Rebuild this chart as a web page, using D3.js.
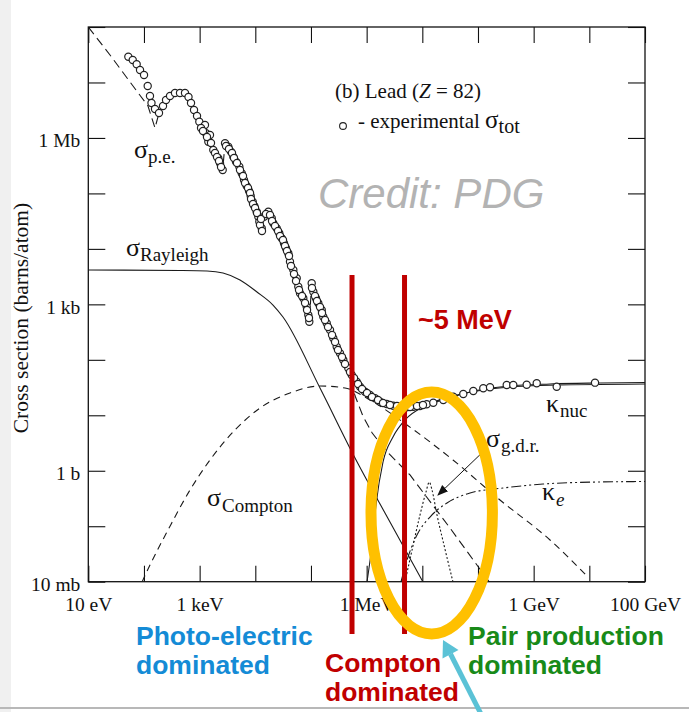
<!DOCTYPE html>
<html>
<head>
<meta charset="utf-8">
<script src="https://cdn.jsdelivr.net/npm/d3@7"></script>
<style>
  body { margin: 0; background: #fff; }
  svg { display: block; }
</style>
</head>
<body>
<div id="chart"></div>
<script>

// all values are read off the picture, in log10 decades
// energy in eV, cross section in barns/atom

// experimental total cross section (open circles)
var expLogE = [1.719, 1.798, 1.869, 1.929, 2.001, 2.067, 2.108, 2.135, 2.198, 2.270,
  2.342, 2.396, 2.468, 2.557, 2.647, 2.737, 2.800, 2.845, 2.899, 2.953,
  2.994, 3.096, 3.114, 3.186, 3.156, 3.245, 3.335, 3.366, 3.414, 3.456,
  3.515, 3.563, 3.605, 3.653, 3.713, 3.756, 3.797, 3.845, 3.887, 3.917,
  3.953, 3.982, 4.025, 4.054, 4.072, 4.115, 4.156, 4.234, 4.295, 4.323,
  4.384, 4.431, 4.474, 4.515, 4.551, 4.593, 4.623, 4.683, 4.744, 4.772,
  4.803, 4.862, 4.923, 4.952, 4.970, 5.013, 5.042, 5.090, 5.132, 5.193,
  5.221, 5.283, 5.342, 5.401, 5.462, 5.521, 5.581, 5.671, 5.732, 5.821,
  5.881, 5.970, 6.060, 6.150, 6.240, 6.360, 6.479, 6.599, 6.719, 6.838,
  6.958, 7.079, 7.197, 7.377, 7.557, 7.736, 7.916, 8.095, 8.216, 8.516,
  8.634, 8.875, 9.055, 9.414, 10.102,
  // second, denser pass over the crowded part of the data
  3.025, 3.060, 3.132, 3.204, 3.276, 3.312, 3.348, 3.384, 3.474, 3.527,
  3.581, 3.617, 3.671, 3.725, 3.779, 3.815, 3.869, 3.905, 3.923, 3.959,
  3.995, 4.030, 4.084, 4.120, 4.102, 4.192, 4.264, 4.300, 4.354, 4.408,
  4.444, 4.497, 4.533, 4.569, 4.605, 4.641, 4.695, 4.731, 4.785, 4.839,
  4.893, 4.929, 4.964, 5.018, 5.072, 5.108, 5.162, 5.198, 5.252, 5.306,
  5.378, 5.432, 5.485, 5.557, 5.611, 5.701, 5.773, 5.845, 5.917, 6.006,
  6.096, 6.204, 6.294, 6.419, 6.545, 6.653, 6.779, 6.905, 7.012];
var expLogSigma = [7.465, 7.405, 7.328, 7.225, 7.135, 6.937, 6.756, 6.630, 6.522, 6.450,
  6.576, 6.684, 6.756, 6.810, 6.810, 6.810, 6.738, 6.630, 6.504, 6.396,
  6.293, 6.233, 6.084, 6.053, 5.932, 5.783, 5.633, 5.543, 5.422, 5.903,
  5.842, 5.752, 5.662, 5.572, 5.482, 5.362, 5.242, 5.134, 5.044, 4.953,
  4.851, 4.773, 4.670, 4.580, 4.490, 4.371, 4.580, 4.670, 4.551, 4.461,
  4.371, 4.281, 4.191, 4.101, 4.011, 3.920, 3.769, 3.619, 3.470, 3.318,
  3.199, 3.109, 2.958, 2.808, 2.687, 3.380, 3.228, 3.109, 3.019, 2.898,
  2.777, 2.658, 2.538, 2.388, 2.237, 2.118, 1.997, 1.847, 1.726, 1.606,
  1.515, 1.425, 1.366, 1.306, 1.245, 1.204, 1.173, 1.155, 1.144, 1.155,
  1.168, 1.198, 1.227, 1.276, 1.335, 1.384, 1.438, 1.487, 1.505, 1.546,
  1.546, 1.551, 1.577, 1.515, 1.588,
  6.179, 6.125, 6.017, 5.909, 5.729, 5.657, 5.584, 5.476, 5.855, 5.801,
  5.729, 5.639, 5.548, 5.422, 5.314, 5.188, 5.098, 5.008, 4.899, 4.809,
  4.737, 4.647, 4.431, 4.322, 4.539, 4.629, 4.611, 4.503, 4.413, 4.322,
  4.232, 4.160, 4.052, 3.962, 3.872, 3.691, 3.547, 3.421, 3.259, 3.151,
  3.024, 2.898, 2.754, 3.295, 3.151, 3.060, 2.952, 2.844, 2.718, 2.592,
  2.448, 2.321, 2.177, 2.051, 1.925, 1.780, 1.672, 1.564, 1.474, 1.402,
  1.330, 1.276, 1.222, 1.186, 1.168, 1.150, 1.150, 1.168, 1.186];

// photo-electric (hidden under the data in the middle)
var peLogE = [1.000, 1.390, 1.749, 2.072, 2.198, 2.270, 2.342, 2.468, 2.647, 2.800,
  2.953, 3.096, 3.245, 3.366, 3.414, 3.456, 3.605, 3.797, 3.953, 4.072,
  4.115, 4.156, 4.234, 4.384, 4.551, 4.683, 4.803, 4.923, 4.970, 5.013,
  5.132, 5.283, 5.462, 5.581, 5.671, 5.800, 5.935, 6.100, 6.350, 6.779,
  7.497, 8.216];
var peLogSigma = [8.000, 7.495, 7.009, 6.576, 6.179, 6.450, 6.576, 6.756, 6.810, 6.738,
  6.396, 6.233, 5.783, 5.543, 5.422, 5.903, 5.662, 5.242, 4.851, 4.490,
  4.371, 4.580, 4.670, 4.371, 4.011, 3.619, 3.199, 2.958, 2.687, 3.380,
  3.019, 2.658, 2.237, 1.997, 1.720, 1.330, 0.980, 0.680, 0.360, -0.076,
  -1.032, -2.023];

// compton (incoherent)
var comptonLogE = [1.965, 2.108, 2.432, 2.827, 3.186, 3.635, 4.084, 4.623, 5.162, 5.611,
  6.060, 6.725, 7.551, 8.395, 9.294, 9.976];
var comptonLogSigma = [-2.005, -1.699, -1.068, -0.347, 0.194, 0.735, 1.131, 1.402, 1.528, 1.492,
  1.276, 0.825, 0.194, -0.527, -1.248, -1.915];

// rayleigh (coherent)
var rayleighLogE = [1.000, 2.647, 3.132, 3.420, 3.725, 4.030, 4.318, 4.497, 5.162, 5.791, 6.419, 7.012];
var rayleighLogSigma = [3.619, 3.610, 3.601, 3.565, 3.439, 3.223, 2.988, 2.772, 1.492, 0.230, -0.924, -2.005];

// total (theory) at high energy
var totalLogE = [5.881, 6.240, 6.599, 6.958, 7.372, 7.857, 8.395, 9.294, 10.192, 11.0];
var totalLogSigma = [1.510, 1.258, 1.150, 1.168, 1.276, 1.420, 1.510, 1.564, 1.582, 1.591];

// pair production, nuclear field
var nucLogE = [6.006, 6.096, 6.168, 6.294, 6.473, 6.689, 7.048, 7.551, 8.216, 9.114, 11.0];
var nucLogSigma = [-2.005, -1.338, -0.617, 0.158, 0.609, 0.915, 1.168, 1.348, 1.474, 1.537, 1.564];

// pair production, electron field
var elecLogE = [6.617, 6.743, 6.904, 7.138, 7.443, 7.857, 8.450, 9.168, 10.138, 11.0];
var elecLogSigma = [-2.005, -1.555, -1.158, -0.834, -0.581, -0.401, -0.311, -0.239, -0.203, -0.194];

// giant dipole resonance
var gdrLogE = [6.689, 6.815, 6.958, 7.066, 7.125, 7.174, 7.264, 7.389, 7.551];
var gdrLogSigma = [-2.005, -1.429, -0.798, -0.383, -0.203, -0.347, -0.798, -1.338, -2.005];

// tick labels
var xLabelDecades = [1, 3, 6, 9, 11];
var xLabelTexts = ['10 eV', '1 keV', '1 MeV', '1 GeV', '100 GeV'];
var yLabelDecades = [-2, 0, 3, 6];
var yLabelTexts = ['10 mb', '1 b', '1 kb', '1 Mb'];

// region boundaries drawn in red (eV)
var boundaryEnergies = [5.46e5, 4.79e6];


function renderChart(params) {

  // exposed variables
  var attrs = {
    svgWidth: 689,
    svgHeight: 712,
    plotLeft: 88.3,
    plotRight: 645,
    plotTop: 27,
    plotBottom: 581.7,
    container: 'body',
    serif: "'Liberation Serif', 'Times New Roman', serif",
    sans: "'Liberation Sans', Arial, sans-serif"
  };

  Object.keys(attrs).forEach(function (key) {
    if (params && params[key]) attrs[key] = params[key];
  });

  var main = function (selection) {
    selection.each(function () {

      var svg = d3.select(this).append('svg')
        .attr('width', attrs.svgWidth)
        .attr('height', attrs.svgHeight);

      // slide edge
      svg.append('rect').attr('x', 0).attr('y', 0).attr('width', 11).attr('height', attrs.svgHeight).attr('fill', '#f0f0f0');
      svg.append('rect').attr('x', 0).attr('y', 707).attr('width', attrs.svgWidth).attr('height', 2).attr('fill', '#b8b8b8');

      var x = d3.scaleLog().domain([1e1, 1e11]).range([attrs.plotLeft, attrs.plotRight]);
      var y = d3.scaleLog().domain([1e-2, 1e8]).range([attrs.plotBottom, attrs.plotTop]);

      var xDecades = d3.range(1, 12).map(function (d) { return Math.pow(10, d); });
      var yDecades = d3.range(-2, 9).map(function (d) { return Math.pow(10, d); });

      function label(decades, texts) {
        return function (d) {
          var i = decades.indexOf(Math.round(Math.log10(d)));
          return i < 0 ? '' : texts[i];
        };
      }

      //axes, ticks point inwards
      svg.append('g').attr('transform', 'translate(0,' + attrs.plotBottom + ')')
        .call(d3.axisBottom(x).tickValues(xDecades).tickSize(-16).tickPadding(15)
          .tickFormat(label(xLabelDecades, xLabelTexts)));
      svg.append('g').attr('transform', 'translate(0,' + attrs.plotTop + ')')
        .call(d3.axisTop(x).tickValues(xDecades).tickSize(-16).tickFormat(''));
      var gy = svg.append('g').attr('transform', 'translate(' + attrs.plotLeft + ',0)')
        .call(d3.axisLeft(y).tickValues(yDecades).tickSize(-17).tickPadding(8)
          .tickFormat(label(yLabelDecades, yLabelTexts)));
      svg.append('g').attr('transform', 'translate(' + attrs.plotRight + ',0)')
        .call(d3.axisRight(y).tickValues(yDecades).tickSize(-17).tickFormat(''));

      svg.selectAll('.domain').remove();
      svg.selectAll('.tick line').attr('stroke', '#111').attr('stroke-width', 1.1);
      svg.selectAll('.tick text')
        .attr('font-family', attrs.serif)
        .attr('font-size', '19.5px')
        .attr('fill', '#111');
      gy.selectAll('.tick text').attr('dy', '0.45em');

      svg.append('text')
        .attr('transform', 'translate(28,318) rotate(-90)')
        .attr('text-anchor', 'middle')
        .attr('font-family', attrs.serif)
        .attr('font-size', '21.5px')
        .attr('fill', '#111')
        .text('Cross section  (barns/atom)');

      svg.append('rect')
        .attr('x', attrs.plotLeft).attr('y', attrs.plotTop)
        .attr('width', attrs.plotRight - attrs.plotLeft)
        .attr('height', attrs.plotBottom - attrs.plotTop)
        .attr('fill', 'none').attr('stroke', '#111').attr('stroke-width', 1.3);

      svg.append('clipPath').attr('id', 'plot-clip').append('rect')
        .attr('x', attrs.plotLeft).attr('y', attrs.plotTop)
        .attr('width', attrs.plotRight - attrs.plotLeft)
        .attr('height', attrs.plotBottom - attrs.plotTop);

      var chart = svg.append('g').attr('clip-path', 'url(#plot-clip)');

      function points(le, ls) {
        return le.map(function (v, i) { return [Math.pow(10, v), Math.pow(10, ls[i])]; });
      }

      var smooth = d3.line().x(function (d) { return x(d[0]); }).y(function (d) { return y(d[1]); })
        .curve(d3.curveMonotoneX);
      var straight = d3.line().x(function (d) { return x(d[0]); }).y(function (d) { return y(d[1]); });

      var curves = [
        { pts: points(rayleighLogE, rayleighLogSigma), dash: null, gen: smooth },
        { pts: points(peLogE, peLogSigma), dash: '9,5', gen: straight },
        { pts: points(comptonLogE, comptonLogSigma), dash: '7,5', gen: smooth },
        { pts: points(totalLogE, totalLogSigma), dash: null, gen: smooth },
        { pts: points(nucLogE, nucLogSigma), dash: null, gen: smooth },
        { pts: points(elecLogE, elecLogSigma), dash: '10,3,2,3,2,3', gen: smooth },
        { pts: points(gdrLogE, gdrLogSigma), dash: '2,2', gen: smooth }
      ];

      chart.selectAll('path.curve').data(curves).join('path')
        .attr('class', 'curve')
        .attr('d', function (d) { return d.gen(d.pts); })
        .attr('fill', 'none')
        .attr('stroke', '#1a1a1a')
        .attr('stroke-width', 1.1)
        .attr('stroke-dasharray', function (d) { return d.dash; });

      chart.selectAll('circle.exp').data(points(expLogE, expLogSigma)).join('circle')
        .attr('class', 'exp')
        .attr('cx', function (d) { return x(d[0]); })
        .attr('cy', function (d) { return y(d[1]); })
        .attr('r', 3.6)
        .attr('fill', '#fff')
        .attr('stroke', '#222')
        .attr('stroke-width', 1.2);

      // g.d.r. pointer
      svg.append('defs').append('marker')
        .attr('id', 'blackhead').attr('viewBox', '0 0 10 10')
        .attr('refX', 9).attr('refY', 5).attr('markerWidth', 11).attr('markerHeight', 11)
        .attr('markerUnits', 'userSpaceOnUse').attr('orient', 'auto')
        .append('path').attr('d', 'M0,1 L10,5 L0,9 Z').attr('fill', '#111');
      svg.append('line')
        .attr('x1', x(Math.pow(10, 8.18))).attr('y1', y(Math.pow(10, 0.428)))
        .attr('x2', x(Math.pow(10, 7.282))).attr('y2', y(Math.pow(10, -0.437)))
        .attr('stroke', '#111').attr('stroke-width', 1)
        .attr('marker-end', 'url(#blackhead)');

      //#################### labels inside the plot ####################
      function symbolLabel(px, py, sym, sub, subDx, subDy, italicSub) {
        var t = svg.append('text')
          .attr('x', px).attr('y', py)
          .attr('font-family', attrs.serif)
          .attr('fill', '#111');
        t.append('tspan').attr('font-size', '26px').text(sym);
        t.append('tspan').attr('font-size', '19px').attr('dx', subDx).attr('dy', subDy)
          .attr('font-style', italicSub ? 'italic' : null).text(sub);
      }

      symbolLabel(134, 158, 'σ', 'p.e.', 0, 5);
      symbolLabel(126, 256, 'σ', 'Rayleigh', 0, 5);
      symbolLabel(207, 506, 'σ', 'Compton', 1, 6);
      symbolLabel(486, 447, 'σ', 'g.d.r.', 1, 5);
      symbolLabel(546, 412, 'κ', 'nuc', 1, 5);
      symbolLabel(542, 500, 'κ', 'e', 1, 6, true);

      var title = svg.append('text').attr('x', 335).attr('y', 98)
        .attr('font-family', attrs.serif).attr('font-size', '21px').attr('fill', '#111');
      title.append('tspan').text('(b) Lead (');
      title.append('tspan').attr('font-style', 'italic').text('Z');
      title.append('tspan').text(' = 82)');

      svg.append('circle').attr('cx', 343).attr('cy', 126).attr('r', 3.4)
        .attr('fill', '#fff').attr('stroke', '#222').attr('stroke-width', 1.1);
      var legend = svg.append('text').attr('x', 358).attr('y', 128)
        .attr('font-family', attrs.serif).attr('font-size', '21px').attr('fill', '#111');
      legend.append('tspan').text('- experimental ');
      legend.append('tspan').attr('font-size', '25px').text('σ');
      legend.append('tspan').attr('font-size', '20px').attr('dy', 5).text('tot');

      svg.append('text').attr('x', 318).attr('y', 208)
        .attr('font-family', attrs.sans).attr('font-style', 'italic')
        .attr('font-size', '42px').attr('fill', '#b3b3b3')
        .text('Credit: PDG');

      //#################### slide annotations ####################
      svg.selectAll('line.boundary').data(boundaryEnergies).join('line')
        .attr('class', 'boundary')
        .attr('x1', function (d) { return x(d); }).attr('x2', function (d) { return x(d); })
        .attr('y1', 275).attr('y2', 634)
        .attr('stroke', '#c00000').attr('stroke-width', 5);

      svg.append('text').attr('x', 418).attr('y', 329)
        .attr('font-family', attrs.sans).attr('font-weight', 'bold')
        .attr('font-size', '27px').attr('fill', '#c00000')
        .text('~5 MeV');

      svg.append('ellipse')
        .attr('cx', 431.7).attr('cy', 513).attr('rx', 60.7).attr('ry', 121)
        .attr('fill', 'none').attr('stroke', '#ffc000').attr('stroke-width', 11);

      // cyan arrow from below pointing at the ellipse
      svg.append('line').attr('x1', 481).attr('y1', 714).attr('x2', 450.5).attr('y2', 654)
        .attr('stroke', '#5bc2d6').attr('stroke-width', 5);
      svg.append('path').attr('d', 'M443,640 L458.5,650 L442.5,658.5 Z').attr('fill', '#5bc2d6');

      var notes = [
        { x: 136, y: 645, lines: ['Photo-electric', 'dominated'], color: '#148bd6' },
        { x: 325, y: 672, lines: ['Compton', 'dominated'], color: '#c00000' },
        { x: 468, y: 645, lines: ['Pair production', 'dominated'], color: '#188a18' }
      ];
      notes.forEach(function (n) {
        n.lines.forEach(function (s, i) {
          svg.append('text').attr('x', n.x).attr('y', n.y + i * 28.5)
            .attr('font-family', attrs.sans).attr('font-weight', 'bold')
            .attr('font-size', '26.5px').attr('fill', n.color)
            .text(s);
        });
      });
    });
  };

  main.run = function () {
    d3.selectAll(attrs.container).call(main);
    return main;
  };

  return main;
}

renderChart({ container: '#chart' }).run();
</script>
</body>
</html>
